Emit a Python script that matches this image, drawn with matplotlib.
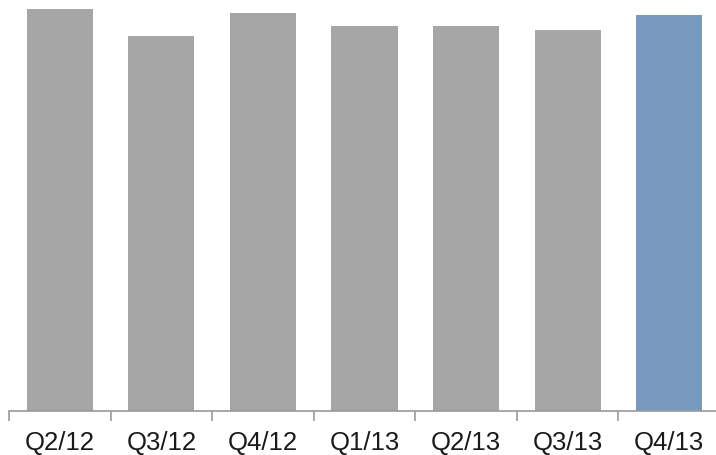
import numpy as np
import matplotlib.pyplot as plt

# data (bar heights, arbitrary units)
quarters = ['Q2/12', 'Q3/12', 'Q4/12', 'Q1/13', 'Q2/13', 'Q3/13', 'Q4/13']
values = [402, 375.5, 398, 385.5, 385.5, 381, 396]
colors = ['#a6a6a6'] * 6 + ['#7799bd']

plt.rcParams['font.family'] = ['Liberation Sans', 'DejaVu Sans']

fig = plt.figure(figsize=(7.16, 4.56), dpi=100)
ax = fig.add_axes([9 / 716, 44 / 456, 711 / 716, 412 / 456])

x = np.arange(len(quarters))
ax.bar(x, values, width=0.65, color=colors, edgecolor='none')

ax.set_xlim(-0.5, len(quarters) - 0.5)
ax.set_ylim(0, 412)

# ticks between categories, labels at centres
ax.set_xticks(np.arange(len(quarters) + 1) - 0.5)
ax.set_xticklabels([])
ax.set_xticks(x, minor=True)
ax.set_xticklabels(quarters, minor=True, fontsize=18.5, color='#1a1a1a')
ax.tick_params(axis='x', which='major', direction='out', length=7, width=1.2, color='#999999')
ax.tick_params(axis='x', which='minor', length=0, pad=14)

ax.set_yticks([])
for s in ['top', 'right', 'left']:
    ax.spines[s].set_visible(False)
ax.spines['bottom'].set_color('#999999')
ax.spines['bottom'].set_linewidth(1.2)

fig.savefig('out.png', dpi=100)
